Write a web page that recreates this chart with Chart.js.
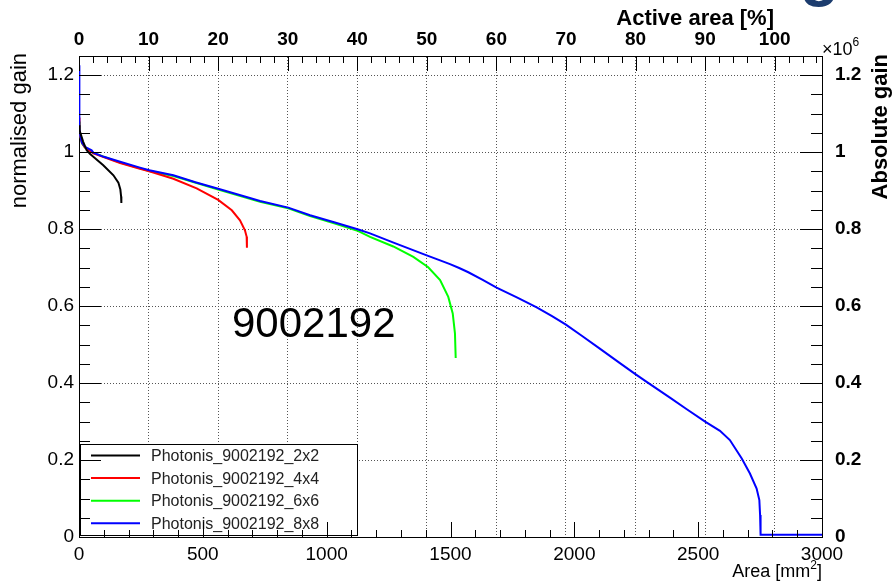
<!DOCTYPE html>
<html>
<head>
<meta charset="utf-8">
<script src="https://cdn.jsdelivr.net/npm/chart.js@4.4.1/dist/chart.umd.min.js"></script>
<style>
html, body { margin: 0; padding: 0; background: #fff; }
</style>
</head>
<body>
<canvas id="myChart" width="896" height="587"></canvas>
<script>
// gain vs. cumulated area
const area2x2 = [0, 2, 17, 31, 45, 65, 98, 139, 159, 167, 170, 171];
const gain2x2 = [1.07, 1.057, 1.027, 1.005, 0.995, 0.984, 0.966, 0.940, 0.921, 0.903, 0.885, 0.868];

const area4x4 = [0, 2, 6, 12, 24, 58, 166, 246, 287, 381, 475, 562, 617, 650, 670, 677, 678];
const gain4x4 = [1.09, 1.06, 1.04, 1.024, 1.012, 0.997, 0.972, 0.957, 0.950, 0.931, 0.906, 0.876, 0.849, 0.823, 0.797, 0.780, 0.752];

const area6x6 = [0, 3, 12, 24, 58, 166, 284, 381, 562, 731, 845, 933, 1030, 1128, 1175, 1269, 1350, 1410, 1458, 1491, 1509, 1518, 1521];
const gain6x6 = [1.08, 1.05, 1.023, 1.012, 0.998, 0.973, 0.951, 0.938, 0.903, 0.871, 0.854, 0.834, 0.815, 0.795, 0.780, 0.755, 0.728, 0.701, 0.668, 0.624, 0.581, 0.529, 0.465];

const area8x8 = [0, 0.5, 1, 3, 6, 12, 24, 51, 58, 100, 166, 246, 284, 381, 470, 562, 690, 731, 845, 933,
    1030, 1128, 1175, 1270, 1404, 1458, 1498, 1535, 1572, 1630, 1686, 1770, 1848, 1910, 1966, 2030, 2100, 2184, 2245, 2292,
    2386, 2454, 2528, 2588, 2628, 2676, 2709, 2736, 2747, 2750, 2752, 3000];
const gain8x8 = [1.226, 1.16, 1.10, 1.06, 1.04, 1.025, 1.014, 1.005, 0.999, 0.988, 0.975, 0.960, 0.953, 0.940, 0.922, 0.905, 0.881, 0.873, 0.856, 0.836,
    0.818, 0.799, 0.789, 0.765, 0.732, 0.719, 0.709, 0.699, 0.688, 0.668, 0.648, 0.622, 0.597, 0.574, 0.552, 0.523, 0.491, 0.452, 0.424, 0.403,
    0.362, 0.332, 0.300, 0.276, 0.252, 0.204, 0.165, 0.126, 0.096, 0.057, 0.006, 0.006];

const seriesNames = ['Photonis_9002192_2x2', 'Photonis_9002192_4x4', 'Photonis_9002192_6x6', 'Photonis_9002192_8x8'];
const seriesColors = ['#000000', '#ff0000', '#00ff00', '#0000ff'];

const areaTicks = [0, 500, 1000, 1500, 2000, 2500, 3000];
const percentTicks = [0, 10, 20, 30, 40, 50, 60, 70, 80, 90, 100];
const gainTicks = [0, 0.2, 0.4, 0.6, 0.8, 1, 1.2];

const FULL_AREA = 2809;   // mm2 = 100 % active area
const AREA_MAX = 3000;
const GAIN_MAX = 1.25;
const FONT = "'Liberation Sans', Arial, Helvetica, sans-serif";

Chart.defaults.font.family = FONT;
Chart.defaults.color = '#000';

function toPoints(xs, ys) {
    return xs.map((x, i) => ({ x: x, y: ys[i] }));
}

function fixTicks(list) {
    return (scale) => { scale.ticks = list.map(v => ({ value: v })); };
}

// ROOT style: inner ticks, legend box, axis titles
const rootDeco = {
    id: 'rootDeco',
    afterDraw(chart) {
        const ctx = chart.ctx;
        const a = chart.chartArea;
        const sx = chart.scales.x, sx2 = chart.scales.x2, sy = chart.scales.y;
        ctx.save();

        // legend
        const lx = 80.5, ly = 444.5, lw = 277, lh = 91;
        ctx.fillStyle = '#fff';
        ctx.fillRect(lx, ly, lw, lh);
        ctx.strokeStyle = '#000';
        ctx.lineWidth = 1;
        ctx.strokeRect(lx, ly, lw, lh);
        ctx.font = '16px ' + FONT;
        ctx.textBaseline = 'middle';
        ctx.textAlign = 'left';
        chart.data.datasets.forEach((ds, i) => {
            const ry = 455.5 + i * 22.6;
            ctx.strokeStyle = ds.borderColor;
            ctx.lineWidth = 2;
            ctx.beginPath();
            ctx.moveTo(91, ry);
            ctx.lineTo(140, ry);
            ctx.stroke();
            ctx.fillStyle = '#222';
            ctx.fillText(ds.label, 151, ry + 1);
        });

        // ticks, pointing into the frame
        ctx.strokeStyle = '#000';
        ctx.lineWidth = 1;
        ctx.beginPath();
        for (let i = 0; i <= 30; i++) {
            const px = Math.round(sx.getPixelForValue(i * 100)) + 0.5;
            const len = i % 5 === 0 ? 15 : 7;
            ctx.moveTo(px, a.bottom);
            ctx.lineTo(px, a.bottom - len);
        }
        for (let i = 0; i <= 53; i++) {
            const px = Math.round(sx2.getPixelForValue(i * 2)) + 0.5;
            const len = i % 5 === 0 ? 15 : 7;
            ctx.moveTo(px, a.top);
            ctx.lineTo(px, a.top + len);
        }
        for (let i = 0; i <= 25; i++) {
            const py = Math.round(sy.getPixelForValue(i * 0.05)) + 0.5;
            const len = i % 4 === 0 ? 22 : 11;
            ctx.moveTo(a.left, py);
            ctx.lineTo(a.left + len, py);
            ctx.moveTo(a.right, py);
            ctx.lineTo(a.right - len, py);
        }
        ctx.stroke();

        ctx.fillStyle = '#000';
        // top axis title
        ctx.font = 'bold 22px ' + FONT;
        ctx.textAlign = 'right';
        ctx.textBaseline = 'alphabetic';
        ctx.fillText('Active area [%]', 774, 25);

        // bottom axis title with superscript
        ctx.font = '18px ' + FONT;
        const wB = ctx.measureText(']').width;
        ctx.fillText(']', a.right, 577);
        ctx.font = '12px ' + FONT;
        const wS = ctx.measureText('2').width;
        ctx.fillText('2', a.right - wB, 569);
        ctx.font = '18px ' + FONT;
        ctx.fillText('Area [mm', a.right - wB - wS, 577);

        // exponent of the right axis
        ctx.textAlign = 'left';
        ctx.font = '18px ' + FONT;
        ctx.fillText('\u00d710', 822, 55);
        const wE = ctx.measureText('\u00d710').width;
        ctx.font = '12px ' + FONT;
        ctx.fillText('6', 822 + wE, 46);

        // label inside the pad
        ctx.font = '42px ' + FONT;
        ctx.fillText('9002192', 232, 337);

        // rotated titles
        ctx.save();
        ctx.translate(26, 53);
        ctx.rotate(-Math.PI / 2);
        ctx.textAlign = 'right';
        ctx.font = '22px ' + FONT;
        ctx.fillText('normalised gain', 0, 0);
        ctx.restore();

        ctx.save();
        ctx.translate(887, 54);
        ctx.rotate(-Math.PI / 2);
        ctx.textAlign = 'right';
        ctx.font = 'bold 22px ' + FONT;
        ctx.fillText('Absolute gain', 0, 0);
        ctx.restore();

        // cut off slide title above the plot
        ctx.fillStyle = '#1c3c6e';
        ctx.font = 'bold 64px ' + FONT;
        ctx.textAlign = 'left';
        ctx.fillText('g', 800, -6);

        ctx.restore();
    }
};

const ctx = document.getElementById('myChart');
new Chart(ctx, {
    type: 'scatter',
    data: {
        datasets: [
            { label: seriesNames[0], data: toPoints(area2x2, gain2x2), borderColor: seriesColors[0], order: 1 },
            { label: seriesNames[1], data: toPoints(area4x4, gain4x4), borderColor: seriesColors[1], order: 3 },
            { label: seriesNames[2], data: toPoints(area6x6, gain6x6), borderColor: seriesColors[2], order: 4 },
            { label: seriesNames[3], data: toPoints(area8x8, gain8x8), borderColor: seriesColors[3], order: 2 }
        ].map(ds => Object.assign(ds, {
            showLine: true, borderWidth: 2, pointRadius: 0, tension: 0, backgroundColor: ds.borderColor
        }))
    },
    options: {
        responsive: false,
        animation: false,
        devicePixelRatio: 1,
        layout: { padding: 0 },
        plugins: { legend: { display: false }, tooltip: { enabled: false } },
        scales: {
            x: {
                type: 'linear', position: 'bottom', min: 0, max: AREA_MAX,
                afterBuildTicks: fixTicks(areaTicks),
                afterFit: (s) => { s.height = 50; },
                ticks: { font: { size: 19 }, padding: -2, maxRotation: 0, autoSkip: false, callback: v => String(v) },
                grid: { display: false },
                border: { display: true, color: '#000', width: 1 }
            },
            x2: {
                type: 'linear', position: 'top', min: 0, max: AREA_MAX / FULL_AREA * 100,
                afterBuildTicks: fixTicks(percentTicks),
                afterFit: (s) => { s.height = 56; },
                ticks: { font: { size: 19, weight: 'bold' }, padding: 5, maxRotation: 0, autoSkip: false, callback: v => String(v) },
                grid: { color: '#555', lineWidth: 1, drawTicks: false },
                border: { display: true, color: '#000', width: 1, dash: [1, 2] }
            },
            y: {
                type: 'linear', position: 'left', min: 0, max: GAIN_MAX,
                afterBuildTicks: fixTicks(gainTicks),
                afterFit: (s) => { s.width = 79; },
                ticks: { font: { size: 19 }, padding: 5, callback: v => String(+v.toFixed(1)) },
                grid: { color: '#555', lineWidth: 1, drawTicks: false },
                border: { display: true, color: '#000', width: 1, dash: [1, 2] }
            },
            y2: {
                type: 'linear', position: 'right', min: 0, max: GAIN_MAX,
                afterBuildTicks: fixTicks(gainTicks),
                afterFit: (s) => { s.width = 74; },
                ticks: { font: { size: 19, weight: 'bold' }, padding: 5, callback: v => String(+v.toFixed(1)) },
                grid: { display: false },
                border: { display: true, color: '#000', width: 1 }
            }
        }
    },
    plugins: [rootDeco]
});
</script>
</body>
</html>
